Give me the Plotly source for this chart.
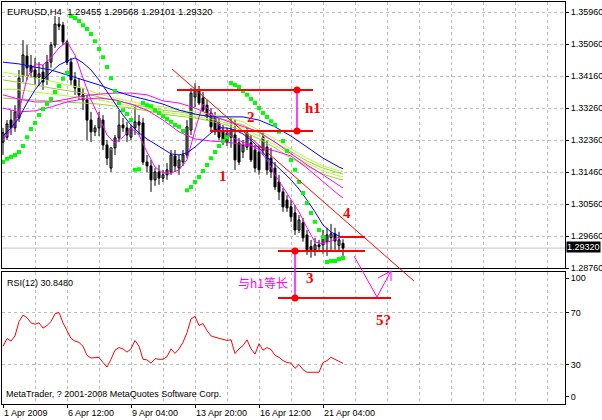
import plotly.graph_objects as go

# ---------------- data ----------------
bar_index = list(range(86))
opens = [1.3230,1.3244,1.3292,1.3270,1.3298,1.3416,1.3472,1.3445,1.3433,1.3413,
         1.3427,1.3405,1.3455,1.3503,1.3562,1.3559,1.3512,1.3455,1.3405,1.3382,
         1.3363,1.3349,1.3292,1.3259,1.3270,1.3292,1.3222,1.3157,1.3214,1.3242,
         1.3278,1.3270,1.3244,1.3270,1.3287,1.3284,1.3174,1.3163,1.3124,1.3146,
         1.3129,1.3138,1.3146,1.3191,1.3157,1.3174,1.3194,1.3264,1.3357,1.3377,
         1.3354,1.3334,1.3312,1.3298,1.3284,1.3264,1.3230,1.3244,1.3250,1.3228,
         1.3202,1.3216,1.3228,1.3208,1.3202,1.3208,1.3216,1.3185,1.3157,1.3118,
         1.3090,1.3067,1.3048,1.3031,1.2983,1.3003,1.2969,1.2936,1.2927,1.2941,
         1.2941,1.2949,1.2961,1.2972,1.2939,1.29455]
highs = [1.3270,1.3292,1.3320,1.3334,1.3433,1.3517,1.3503,1.3475,1.3467,1.3455,
         1.3447,1.3475,1.3512,1.3585,1.3582,1.3568,1.3517,1.3467,1.3427,1.3410,
         1.3382,1.3363,1.3315,1.3278,1.3315,1.3306,1.3236,1.3208,1.3250,1.3320,
         1.3298,1.3287,1.3278,1.3334,1.3306,1.3298,1.3194,1.3180,1.3157,1.3166,
         1.3152,1.3171,1.3208,1.3208,1.3194,1.3208,1.3292,1.3382,1.3396,1.3388,
         1.3371,1.3349,1.3326,1.3315,1.3298,1.3278,1.3270,1.3298,1.3292,1.3242,
         1.3236,1.3270,1.3250,1.3222,1.3222,1.3259,1.3236,1.3214,1.3174,1.3138,
         1.3101,1.3081,1.3067,1.3053,1.3025,1.3017,1.2983,1.2955,1.2961,1.2955,
         1.2983,1.2989,1.3000,1.2989,1.2978,1.29568]
lows = [1.3194,1.3236,1.3250,1.3259,1.3287,1.3399,1.3405,1.3410,1.3391,1.3388,
        1.3377,1.3391,1.3439,1.3495,1.3545,1.3503,1.3447,1.3391,1.3363,1.3349,
        1.3320,1.3236,1.3230,1.3247,1.3247,1.3208,1.3166,1.3146,1.3194,1.3230,
        1.3259,1.3230,1.3236,1.3250,1.3250,1.3166,1.3146,1.3090,1.3107,1.3110,
        1.3118,1.3124,1.3138,1.3146,1.3138,1.3163,1.3185,1.3250,1.3329,1.3334,
        1.3315,1.3292,1.3264,1.3250,1.3236,1.3222,1.3219,1.3214,1.3152,1.3166,
        1.3185,1.3208,1.3174,1.3146,1.3138,1.3194,1.3138,1.3129,1.3095,1.3067,
        1.3034,1.3034,1.3006,1.2969,1.2974,1.2950,1.2913,1.2905,1.2910,1.2921,
        1.2916,1.2910,1.2927,1.2927,1.2921,1.29101]
closes = [1.3256,1.3281,1.3270,1.3315,1.3410,1.3475,1.3439,1.3427,1.3410,1.3422,
          1.3399,1.3455,1.3503,1.3562,1.3556,1.3512,1.3455,1.3405,1.3382,1.3363,
          1.3349,1.3292,1.3259,1.3270,1.3298,1.3222,1.3185,1.3214,1.3242,1.3278,
          1.3270,1.3250,1.3270,1.3287,1.3278,1.3174,1.3163,1.3124,1.3146,1.3129,
          1.3138,1.3152,1.3194,1.3163,1.3180,1.3194,1.3273,1.3368,1.3377,1.3340,
          1.3320,1.3301,1.3273,1.3259,1.3244,1.3236,1.3256,1.3264,1.3180,1.3174,
          1.3222,1.3256,1.3180,1.3157,1.3152,1.3244,1.3152,1.3146,1.3104,1.3090,
          1.3048,1.3045,1.3020,1.2983,1.3011,1.2961,1.2927,1.2927,1.2941,1.2936,
          1.2961,1.2969,1.2972,1.2952,1.2955,1.29320]

sar = [1.3174,1.3183,1.3188,1.3194,1.3202,1.3219,1.3244,1.3267,1.3284,1.3306,1.3323,1.3337,1.3351,1.3371,1.3388,1.3408,1.3425,
       1.3585,1.3579,1.3571,1.3559,1.3548,1.3534,1.3514,1.3492,1.3469,1.3441,1.3410,1.3374,1.3340,1.3320,1.3309,1.3292,
       1.3152,1.3154,
       1.3340,1.3334,1.3331,1.3320,1.3312,1.3303,1.3295,1.3287,1.3278,1.3273,1.3261,
       1.3095,1.3104,1.3118,1.3132,1.3149,1.3166,1.3185,1.3202,1.3219,1.3233,1.3244,
       1.3396,1.3391,1.3385,1.3374,1.3363,1.3351,1.3340,1.3326,1.3312,1.3301,1.3289,1.3278,1.3259,1.3233,
       1.3205,1.3180,1.3152,1.3118,1.3087,1.3059,1.3031,1.3006,1.2983,1.2963,
       1.2893,1.2896,1.2896,1.2901,1.2904]

fast_idx = list(range(0, 85, 2)) + [85]
blue_fast = [1.3247,1.3270,1.3298,1.3340,1.3377,1.3405,1.3427,1.3447,1.3458,1.3467,
             1.3453,1.3433,1.3405,1.3371,1.3337,1.3306,1.3278,1.3256,1.3239,1.3225,
             1.3211,1.3197,1.3194,1.3200,1.3216,1.3236,1.3256,1.3270,1.3270,1.3264,
             1.3253,1.3236,1.3214,1.3188,1.3168,1.3146,1.3124,1.3098,1.3067,1.3034,
             1.2997,1.2977,1.2966,1.2961]
magenta_fast = [1.3236,1.3264,1.3315,1.3410,1.3450,1.3447,1.3467,1.3495,1.3512,1.3475,
                1.3410,1.3349,1.3301,1.3250,1.3228,1.3244,1.3270,1.3250,1.3202,1.3160,
                1.3143,1.3143,1.3152,1.3180,1.3264,1.3337,1.3315,1.3278,1.3256,1.3239,
                1.3230,1.3222,1.3208,1.3180,1.3138,1.3104,1.3070,1.3034,1.2989,1.2949,
                1.2944,1.2952,1.2963,1.2966]

slow_idx = list(range(0, 85, 4)) + [85]
blue_slow = [1.3455,1.3450,1.3441,1.3433,1.3419,1.3405,1.3391,1.3374,1.3360,1.3349,1.3337,1.3320,
             1.3309,1.3301,1.3301,1.3301,1.3292,1.3273,1.3247,1.3216,1.3185,1.3160,1.3155]
magenta_mid = [1.3363,1.3351,1.3343,1.3343,1.3351,1.3360,1.3365,1.3368,1.3368,1.3363,1.3346,1.3340,
               1.3326,1.3306,1.3289,1.3275,1.3259,1.3230,1.3199,1.3166,1.3138,1.3109,1.3101]
magenta_slow = [1.3326,1.3315,1.3318,1.3329,1.3343,1.3351,1.3354,1.3349,1.3337,1.3320,1.3292,1.3259,
                1.3239,1.3233,1.3230,1.3222,1.3216,1.3205,1.3191,1.3157,1.3118,1.3081,1.3073]
green_1 = [1.3427,1.3419,1.3410,1.3402,1.3391,1.3382,1.3365,1.3354,1.3343,1.3334,1.3329,1.3320,
           1.3315,1.3309,1.3301,1.3287,1.3264,1.3239,1.3211,1.3185,1.3163,1.3149,1.3146]
green_2 = [1.3405,1.3399,1.3391,1.3382,1.3374,1.3368,1.3357,1.3346,1.3337,1.3329,1.3320,1.3315,
           1.3309,1.3301,1.3292,1.3278,1.3256,1.3230,1.3202,1.3177,1.3157,1.3143,1.3140]
green_3 = [1.3379,1.3377,1.3371,1.3365,1.3360,1.3354,1.3349,1.3340,1.3331,1.3323,1.3315,1.3309,
           1.3303,1.3295,1.3284,1.3270,1.3247,1.3222,1.3194,1.3171,1.3149,1.3135,1.3132]
green_4 = [1.3354,1.3351,1.3349,1.3346,1.3343,1.3340,1.3337,1.3331,1.3326,1.3318,1.3309,1.3303,
           1.3298,1.3289,1.3278,1.3261,1.3239,1.3214,1.3185,1.3163,1.3140,1.3126,1.3124]

rsi = [44,50,48,52,63,68,66,62,61,62,58,60,63,69,70,62,56,50,48,47,
       44,37,35,35,35.5,31.5,28,34,41,43,42,39.5,42,48.5,44,34,33.5,31,34.5,34,
       34,36,42,38.5,42,47,54.5,65,67,60,61.5,56,52,51,50,49,48.5,49,38.5,42,
       44.5,49,42,38,46,41,43,41.5,37,35.5,33,31.5,31,27,30,26,24,24,24,24,
       31.5,33,35.5,34,32.5,30.848]

time_tick_idx = [0, 16, 32, 48, 64, 80]
time_tick_text = ["1 Apr 2009", "6 Apr 12:00", "9 Apr 04:00", "13 Apr 20:00", "16 Apr 12:00", "21 Apr 04:00"]
price_ticks = [1.28760, 1.29660, 1.30560, 1.31460, 1.32360, 1.33260, 1.34160, 1.35060, 1.35960]
rsi_levels = [30, 70]
last_price = 1.29320
header = "EURUSD,H4  1.29455 1.29568 1.29101 1.29320"

# drawn objects (bar index, price)
trend_x = [42.25, 102.75]; trend_y = [1.34357, 1.28394]
h1_top_x = [43.5, 77.5]; h1_top = 1.33766
h1_bot_x = [51.75, 77.5]; h1_bot = 1.32613
h1_vx = 73.5
low_x = [68.75, 90.5]; low_y = 1.29238
last_x = [84.25, 90.5]; last_y = 1.29632
target_x = [68.75, 97.0]; target_y = 1.27916
proj_vx = 73.0
path_x = [87.75, 93.5, 97.0]; path_y = [1.29097, 1.27944, 1.28676]
head_x = [93.75, 97.0, 97.0]; head_y = [1.28479, 1.28676, 1.28394]
labels = [("h1", 77.5, 1.33260), ("2", 62.0, 1.32993), ("1", 55.0, 1.31348),
          ("4", 86.0, 1.30321), ("3", 76.7, 1.28465), ("5?", 95.0, 1.27298)]
cn_label = ("与h1等长", 65.1, 1.28366)

# ---------------- geometry ----------------
X_RANGE = [-0.25, 140.5]
MAIN_RANGE = [1.2874594, 1.3624125]
FULL_RANGE = [1.24935, 1.3624125]
RSI_RANGE = [-0.4, 101.15]
GRID = "#BEBEBE"
FONT = "Liberation Sans, Arial, sans-serif"

fig = go.Figure()

# candles: wicks
wx, wy = [], []
for i, h, l in zip(bar_index, highs, lows):
    wx += [i, i, None]
    wy += [l, h, None]
fig.add_trace(go.Scatter(x=wx, y=wy, mode="lines", line=dict(color="black", width=1),
                         hoverinfo="skip", showlegend=False, xaxis="x", yaxis="y"))
# bodies
ux, ub, uh, dx, db, dh = [], [], [], [], [], []
for i, o, c in zip(bar_index, opens, closes):
    hgt = max(abs(c - o), 0.00004)
    if c >= o:
        ux.append(i); ub.append(o); uh.append(hgt)
    else:
        dx.append(i); db.append(c); dh.append(hgt)
fig.add_trace(go.Bar(x=ux, y=uh, base=ub, width=0.5, marker=dict(color="white", line=dict(color="black", width=1)),
                     showlegend=False, xaxis="x", yaxis="y"))
fig.add_trace(go.Bar(x=dx, y=dh, base=db, width=0.5, marker=dict(color="black", line=dict(color="black", width=1)),
                     showlegend=False, xaxis="x", yaxis="y"))

# moving averages
for ser, col in [(green_1, "#ADFF2F"), (green_2, "#9ACD32"), (green_3, "#ADFF2F"), (green_4, "#9ACD32")]:
    fig.add_trace(go.Scatter(x=slow_idx, y=ser, mode="lines", line=dict(color=col, width=1),
                             showlegend=False, xaxis="x", yaxis="y"))
for ser in [magenta_mid, magenta_slow]:
    fig.add_trace(go.Scatter(x=slow_idx, y=ser, mode="lines", line=dict(color="#FF00FF", width=1),
                             showlegend=False, xaxis="x", yaxis="y"))
fig.add_trace(go.Scatter(x=fast_idx, y=magenta_fast, mode="lines", line=dict(color="#FF00FF", width=1),
                         showlegend=False, xaxis="x", yaxis="y"))
fig.add_trace(go.Scatter(x=slow_idx, y=blue_slow, mode="lines", line=dict(color="#0000FF", width=1),
                         showlegend=False, xaxis="x", yaxis="y"))
fig.add_trace(go.Scatter(x=fast_idx, y=blue_fast, mode="lines", line=dict(color="#0000FF", width=1),
                         showlegend=False, xaxis="x", yaxis="y"))
# parabolic SAR
fig.add_trace(go.Scatter(x=bar_index, y=sar, mode="markers", marker=dict(color="#00FF00", size=4, symbol="square"),
                         showlegend=False, xaxis="x", yaxis="y"))

# RSI
fig.add_trace(go.Scatter(x=bar_index, y=rsi, mode="lines", line=dict(color="#FF0000", width=1),
                         showlegend=False, xaxis="x2", yaxis="y2"))

# drawn objects on the full-height overlay axes
def seg(xs, ys, col, w):
    fig.add_trace(go.Scatter(x=xs, y=ys, mode="lines", line=dict(color=col, width=w),
                             showlegend=False, xaxis="x3", yaxis="y3", hoverinfo="skip"))

seg(trend_x, trend_y, "#FF0000", 1)
seg(h1_top_x, [h1_top, h1_top], "#FF0000", 2)
seg(h1_bot_x, [h1_bot, h1_bot], "#FF0000", 2)
seg([h1_vx, h1_vx], [h1_top, h1_bot], "#FF00FF", 1.5)
seg(low_x, [low_y, low_y], "#FF0000", 2)
seg(last_x, [last_y, last_y], "#FF0000", 2)
seg(target_x, [target_y, target_y], "#FF0000", 2)
seg([proj_vx, proj_vx], [low_y, target_y], "#FF00FF", 1.5)
seg(path_x, path_y, "#FF00FF", 1)
seg(head_x, head_y, "#FF00FF", 1)
fig.add_trace(go.Scatter(x=[h1_vx, h1_vx, proj_vx, proj_vx], y=[h1_top, h1_bot, low_y, target_y],
                         mode="markers", marker=dict(color="#FF0000", size=7),
                         showlegend=False, xaxis="x3", yaxis="y3"))

annotations = []
for txt, lx, ly in labels:
    annotations.append(dict(text=txt, x=lx, y=ly, xref="x3", yref="y3", showarrow=False,
                            font=dict(family="Liberation Serif, Times New Roman, serif", size=15,
                                      color="#FF0000", weight="bold")))
annotations.append(dict(text=cn_label[0], x=cn_label[1], y=cn_label[2], xref="x3", yref="y3", showarrow=False,
                        font=dict(family="Noto Sans CJK SC, sans-serif", size=12, color="#FF00FF")))
annotations.append(dict(text=header, x=0.006, y=1.0, xref="paper", yref="paper", xanchor="left", yanchor="top",
                        yshift=-2, showarrow=False, font=dict(family=FONT, size=9.5, color="black")))
annotations.append(dict(text="RSI(12) 30.8480", x=0.006, y=0.328358, xref="paper", yref="paper",
                        xanchor="left", yanchor="top", yshift=-4, showarrow=False,
                        font=dict(family=FONT, size=9, color="black")))
annotations.append(dict(text="MetaTrader, ? 2001-2008 MetaQuotes Software Corp.", x=0.004, y=0.0,
                        xref="paper", yref="paper", xanchor="left", yanchor="bottom", yshift=3, showarrow=False,
                        font=dict(family=FONT, size=9, color="black")))
annotations.append(dict(text=f"{last_price:.5f}", x=1.0, y=last_price, xref="paper", yref="y",
                        xanchor="left", yanchor="middle", xshift=1, yshift=1, showarrow=False, bgcolor="black",
                        borderpad=0, font=dict(family=FONT, size=9, color="white")))

shapes = [
    dict(type="line", xref="x domain", yref="y", x0=0, x1=1, y0=last_price, y1=last_price,
         line=dict(color="#C0C0C0", width=1), layer="below"),
]
for lv in rsi_levels:
    shapes.append(dict(type="line", xref="x2 domain", yref="y2", x0=0, x1=1, y0=lv, y1=lv,
                       line=dict(color=GRID, width=1, dash="3px,3px"), layer="below"))

xcommon = dict(range=X_RANGE, showline=True, mirror=True, linecolor="black", linewidth=1,
               showgrid=True, gridcolor=GRID, griddash="3px,3px", gridwidth=1, zeroline=False,
               tickmode="array", tickvals=time_tick_idx, ticktext=time_tick_text,
               minor=dict(tickmode="linear", tick0=0, dtick=8, showgrid=True, gridcolor=GRID,
                          griddash="3px,3px", ticks=""),
               fixedrange=True, automargin=False)

fig.update_layout(
    template="none",
    width=602, height=420,
    margin=dict(l=2, r=37, t=2, b=16),
    paper_bgcolor="white", plot_bgcolor="rgba(0,0,0,0)",
    barmode="overlay", showlegend=False,
    font=dict(family=FONT, size=9, color="black"),
    xaxis=dict(**xcommon, anchor="y", domain=[0, 1], showticklabels=False, ticks=""),
    yaxis=dict(domain=[0.337065, 1], range=MAIN_RANGE, side="right", anchor="x",
               showline=True, mirror=True, linecolor="black", linewidth=1,
               tickmode="array", tickvals=price_ticks, ticktext=[f"{v:.5f}" for v in price_ticks],
               ticks="outside", ticklen=3, tickcolor="black",
               showgrid=True, gridcolor=GRID, griddash="3px,3px", zeroline=False,
               tickfont=dict(family=FONT, size=9), fixedrange=True, automargin=False),
    xaxis2=dict(**xcommon, anchor="y2", domain=[0, 1], showticklabels=True, ticks="outside",
                ticklen=3, tickcolor="black", ticklabelposition="outside right",
                tickfont=dict(family=FONT, size=9)),
    yaxis2=dict(domain=[0, 0.328358], range=RSI_RANGE, side="right", anchor="x2",
                showline=True, mirror=True, linecolor="black", linewidth=1,
                tickmode="array", tickvals=[5, 30, 70, 96.5], ticktext=["0", "30", "70", "100"],
                ticks="outside", ticklen=3, tickcolor="black",
                showgrid=False, zeroline=False, tickfont=dict(family=FONT, size=9),
                fixedrange=True, automargin=False),
    xaxis3=dict(domain=[0, 1], range=X_RANGE, anchor="y3", visible=False, fixedrange=True),
    yaxis3=dict(domain=[0, 1], range=FULL_RANGE, anchor="x3", visible=False, fixedrange=True),
    annotations=annotations,
    shapes=shapes,
)

fig.write_html("out.html", config={"displayModeBar": False},
               post_script="document.body.style.margin='0';document.body.style.overflow='hidden';")
